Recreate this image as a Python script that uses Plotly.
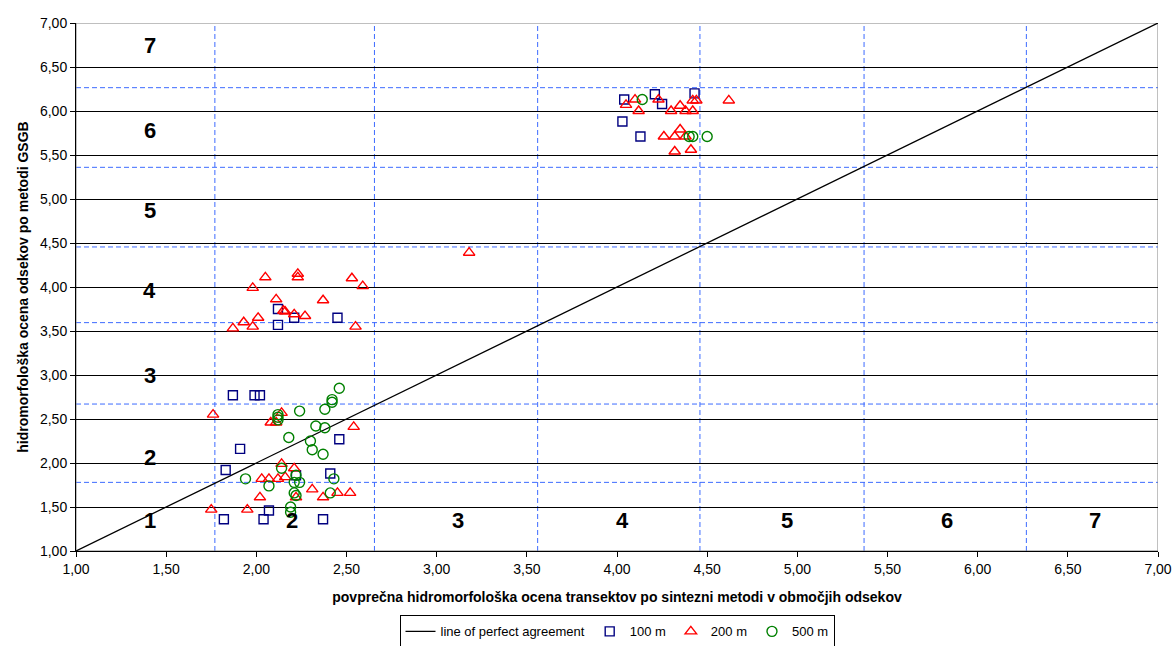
import plotly.graph_objects as go

# --- data -----------------------------------------------------------------
x_100 = [4.04, 4.21, 4.25, 4.43, 4.03, 4.13,
         2.12, 2.21, 2.12, 2.45,
         1.87, 1.99, 2.02, 2.46, 1.91, 1.83, 2.22, 2.41, 2.07, 1.82, 2.04, 2.37]
y_100 = [6.13, 6.19, 6.08, 6.20, 5.88, 5.71,
         3.75, 3.65, 3.57, 3.65,
         2.77, 2.77, 2.77, 2.27, 2.16, 1.92, 1.86, 1.88, 1.46, 1.36, 1.36, 1.36]

x_200 = [4.05, 4.10, 4.12, 4.23, 4.30, 4.35, 4.38, 4.42, 4.42, 4.44, 4.62,
         4.35, 4.26, 4.32, 4.38, 4.32, 4.41,
         3.18,
         2.05, 2.23, 2.23, 2.53, 2.59, 1.98, 2.11, 2.37, 2.15, 2.16, 2.21,
         2.27, 2.01, 1.93, 1.98, 1.87, 2.55,
         1.76, 2.14, 2.08, 2.11, 2.54, 2.14, 2.21, 2.03, 2.07, 2.12, 2.16,
         2.31, 2.45, 2.52, 2.37, 2.22, 2.02, 1.75, 1.95]
y_200 = [6.07, 6.13, 6.00, 6.13, 6.00, 6.06, 6.00, 6.00, 6.12, 6.12, 6.12,
         5.79, 5.71, 5.71, 5.71, 5.54, 5.56,
         4.39,
         4.11, 4.15, 4.11, 4.10, 4.01, 3.99, 3.86, 3.85, 3.73, 3.72, 3.69,
         3.67, 3.65, 3.60, 3.55, 3.53, 3.55,
         2.55, 2.57, 2.46, 2.46, 2.41, 1.99, 1.94, 1.82, 1.82, 1.82, 1.84,
         1.70, 1.66, 1.66, 1.61, 1.61, 1.61, 1.47, 1.47]

x_500 = [4.14, 4.40, 4.42, 4.50,
         2.46, 2.42, 2.42, 2.38, 2.24, 2.12, 2.12, 2.12, 2.33, 2.38, 2.18,
         2.30, 2.31, 2.37, 2.14, 1.94, 2.07, 2.21, 2.24, 2.22, 2.43, 2.21,
         2.41, 2.22, 2.19, 2.19]
y_500 = [6.13, 5.71, 5.71, 5.71,
         2.85, 2.72, 2.69, 2.61, 2.59, 2.55, 2.52, 2.49, 2.42, 2.40, 2.29,
         2.25, 2.15, 2.10, 1.94, 1.82, 1.74, 1.78, 1.78, 1.86, 1.82, 1.66,
         1.66, 1.63, 1.50, 1.44]

# class boundaries
x_bounds = [1.77, 2.655, 3.56, 4.46, 5.37, 6.27]
y_bounds = [1.78, 2.67, 3.595, 4.455, 5.36, 6.265]

# class numbers: along the left (y classes) and along the bottom (x classes)
class_left_y = [1.35, 2.06, 3.00, 3.96, 4.87, 5.78, 6.75]
class_left_txt = ["1", "2", "3", "4", "5", "6", "7"]
class_bottom_x = [2.20, 3.12, 4.03, 4.94, 5.83, 6.65]
class_bottom_txt = ["2", "3", "4", "5", "6", "7"]

tick_vals = [1.0, 1.5, 2.0, 2.5, 3.0, 3.5, 4.0, 4.5, 5.0, 5.5, 6.0, 6.5, 7.0]
tick_text = ["1,00", "1,50", "2,00", "2,50", "3,00", "3,50", "4,00",
             "4,50", "5,00", "5,50", "6,00", "6,50", "7,00"]

FONT = "Liberation Sans, Arial, sans-serif"

fig = go.Figure()

fig.add_trace(go.Scatter(
    x=[1, 7], y=[1, 7], mode="lines", name="line of perfect agreement",
    line=dict(color="black", width=1.3)))
fig.add_trace(go.Scatter(
    x=x_100, y=y_100, mode="markers", name="100 m",
    marker=dict(symbol="square-open", size=9, color="#000080",
                line=dict(width=1.4, color="#000080"))))
fig.add_trace(go.Scatter(
    x=x_200, y=y_200, mode="markers", name="200 m",
    marker=dict(symbol="triangle-up-open", size=10, color="#FF0000",
                line=dict(width=1.4, color="#FF0000"))))
fig.add_trace(go.Scatter(
    x=x_500, y=y_500, mode="markers", name="500 m",
    marker=dict(symbol="circle-open", size=10, color="#008000",
                line=dict(width=1.4, color="#008000"))))

shapes = []
for xb in x_bounds:
    shapes.append(dict(type="line", xref="x", yref="y", x0=xb, x1=xb, y0=1, y1=7,
                       line=dict(color="#3D6BFF", width=1, dash="5px,3px"),
                       layer="below"))
for yb in y_bounds:
    shapes.append(dict(type="line", xref="x", yref="y", x0=1, x1=7, y0=yb, y1=yb,
                       line=dict(color="#3D6BFF", width=1, dash="5px,3px"),
                       layer="below"))
# plot area frame (top and right)
shapes.append(dict(type="rect", xref="x", yref="y", x0=1, x1=7, y0=1, y1=7,
                   line=dict(color="#808080", width=1), layer="below"))

annotations = []
for yv, t in zip(class_left_y, class_left_txt):
    annotations.append(dict(x=1.41, y=yv, text="<b>%s</b>" % t, showarrow=False,
                            font=dict(family=FONT, size=22, color="black")))
for xv, t in zip(class_bottom_x, class_bottom_txt):
    annotations.append(dict(x=xv, y=1.35, text="<b>%s</b>" % t, showarrow=False,
                            font=dict(family=FONT, size=22, color="black")))

fig.update_layout(
    width=1175, height=646,
    margin=dict(l=76, r=17, t=23, b=95, autoexpand=False),
    paper_bgcolor="white", plot_bgcolor="white",
    font=dict(family=FONT, size=14, color="black"),
    shapes=shapes, annotations=annotations,
    showlegend=True,
    legend=dict(orientation="h", x=0.5, xanchor="center", y=-0.122, yanchor="top",
                bordercolor="black", borderwidth=1, bgcolor="white",
                font=dict(family=FONT, size=13), itemwidth=30,
                tracegroupgap=0),
    xaxis=dict(range=[1, 7], tickvals=tick_vals, ticktext=tick_text,
               showgrid=False, zeroline=False, showline=True, linecolor="black",
               linewidth=1, ticks="outside", ticklen=5, tickcolor="black",
               tickfont=dict(family=FONT, size=14),
               title=dict(text="<b>povprečna hidromorfološka ocena transektov po sintezni metodi v območjih odsekov</b>",
                          font=dict(family=FONT, size=14), standoff=16)),
    yaxis=dict(range=[1, 7], tickvals=tick_vals, ticktext=tick_text,
               showgrid=True, gridcolor="black", gridwidth=1,
               zeroline=False, showline=True, linecolor="black",
               linewidth=1, ticks="outside", ticklen=5, tickcolor="black",
               tickfont=dict(family=FONT, size=14),
               title=dict(text="<b>hidromorfološka ocena odsekov po metodi GSGB</b>",
                          font=dict(family=FONT, size=14), standoff=8)),
)

fig.write_html("out.html")
